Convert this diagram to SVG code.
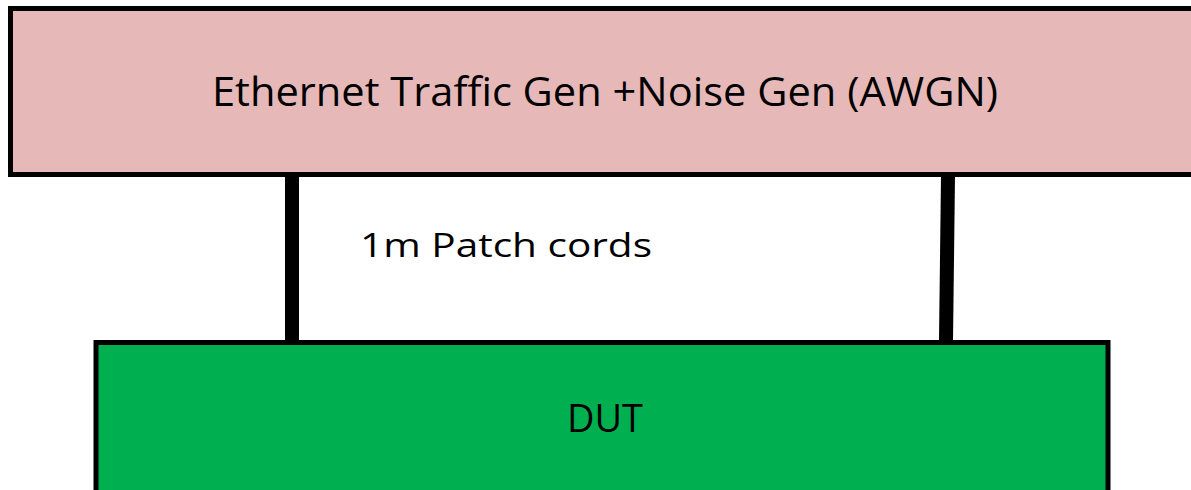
<svg xmlns="http://www.w3.org/2000/svg" width="1191" height="490" viewBox="0 0 1191 490">
<style>
.box{stroke:#000;stroke-width:5}
.lbl{font-family:"Open Sans","Liberation Sans",sans-serif;fill:#000}
.cord{stroke:#000;stroke-width:14;fill:none}
</style>
<rect width="1191" height="490" fill="#fff"/>
<g id="connectors">
<line class="cord" x1="292" y1="176" x2="292" y2="341"/>
<line class="cord" x1="948" y1="176" x2="946" y2="341"/>
</g>
<g id="traffic-gen">
<rect class="box" x="10.5" y="8.5" width="1190" height="166" fill="#E6B9B8"/>
<text class="lbl" x="212" y="106" font-size="41" textLength="786" lengthAdjust="spacingAndGlyphs">Ethernet Traffic Gen +Noise Gen (AWGN)</text>
</g>
<g id="patch-label">
<text class="lbl" x="360" y="257" font-size="33" textLength="292" lengthAdjust="spacingAndGlyphs">1m Patch cords</text>
</g>
<g id="dut">
<rect class="box" x="96" y="342.5" width="1012" height="160" fill="#00B050"/>
<text class="lbl" x="567" y="432" font-size="39" textLength="76" lengthAdjust="spacingAndGlyphs">DUT</text>
</g>
</svg>
